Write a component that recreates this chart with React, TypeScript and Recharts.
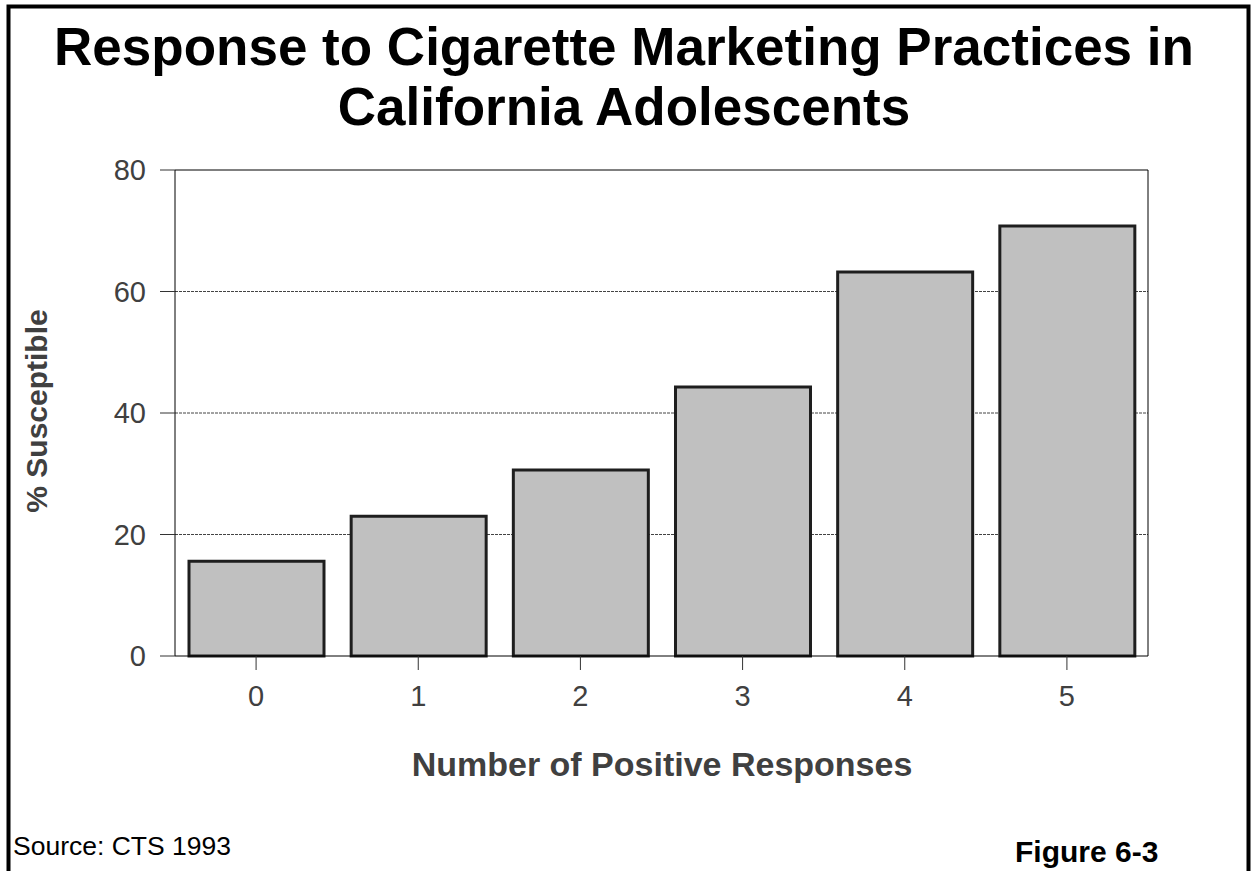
import React from "react";
import {
  BarChart,
  Bar,
  XAxis,
  YAxis,
  CartesianGrid,
  ReferenceLine,
} from "recharts";

// Share of adolescents susceptible to smoking, by number of positive
// responses to cigarette marketing practices.
const categories = ["0", "1", "2", "3", "4", "5"];
const susceptible = [15.6, 23.0, 30.6, 44.3, 63.2, 70.8];
const yTicks = [0, 20, 40, 60, 80];
const gridValues = [20, 40, 60];
const yMax = 80;

const titleLines = [
  "Response to Cigarette Marketing Practices in",
  "California Adolescents",
];
const xTitle = "Number of Positive Responses";
const yTitle = "% Susceptible";
const sourceNote = "Source: CTS 1993";
const figureLabel = "Figure 6-3";

const data = categories.map((c, i) => ({ responses: c, pct: susceptible[i] }));

const FONT = '"Liberation Sans", Arial, Helvetica, sans-serif';
const W = 1252;
const H = 871;

export default function App() {
  return (
    <div
      style={{
        position: "absolute",
        left: 0,
        top: 0,
        width: W,
        height: H,
        background: "#fff",
        fontFamily: FONT,
        overflow: "hidden",
      }}
    >
      <div style={{ position: "absolute", left: 0, top: 0 }}>
        <BarChart
          width={W}
          height={H}
          data={data}
          margin={{ top: 170, right: 0, bottom: 155, left: 0 }}
          barSize={135}
        >
          <CartesianGrid
            vertical={false}
            horizontalValues={gridValues}
            stroke="#444"
            strokeDasharray="3 1"
            strokeWidth={1}
          />
          <XAxis
            dataKey="responses"
            height={60}
            tickSize={14}
            tickMargin={15}
            tick={{ fill: "#404040", fontSize: 29, fontFamily: FONT }}
            tickLine={{ stroke: "#333" }}
            axisLine={{ stroke: "#000" }}
          />
          <YAxis
            width={175}
            domain={[0, yMax]}
            ticks={yTicks}
            tickSize={15}
            tickMargin={14}
            tick={{ fill: "#404040", fontSize: 29, fontFamily: FONT }}
            tickLine={{ stroke: "#333" }}
            axisLine={{ stroke: "#000" }}
          />
          <YAxis
            yAxisId="right"
            orientation="right"
            width={104}
            domain={[0, yMax]}
            tick={false}
            tickLine={false}
            axisLine={{ stroke: "#000" }}
          />
          {/* closes the plot box along the top */}
          <ReferenceLine y={yMax} stroke="#000" strokeWidth={1} />
          <Bar
            dataKey="pct"
            fill="#c0c0c0"
            stroke="#1e1e1e"
            strokeWidth={3}
            isAnimationActive={false}
          />
        </BarChart>
      </div>
      <svg
        width={W}
        height={H}
        style={{ position: "absolute", left: 0, top: 0, pointerEvents: "none" }}
      >
        {/* page frame: left, top and right edges */}
        <path
          d={`M 8.5 ${H} L 8.5 6.5 L 1248.5 6.5 L 1248.5 ${H}`}
          fill="none"
          stroke="#000"
          strokeWidth={4}
        />
        <text
          x={624}
          y={65}
          textAnchor="middle"
          fontFamily={FONT}
          fontWeight="bold"
          fontSize={53}
          fill="#000"
        >
          {titleLines[0]}
        </text>
        <text
          x={624}
          y={125}
          textAnchor="middle"
          fontFamily={FONT}
          fontWeight="bold"
          fontSize={53}
          fill="#000"
        >
          {titleLines[1]}
        </text>
        <text
          x={662}
          y={776}
          textAnchor="middle"
          fontFamily={FONT}
          fontWeight="bold"
          fontSize={34}
          fill="#404040"
        >
          {xTitle}
        </text>
        <text
          x={36}
          y={411}
          textAnchor="middle"
          dominantBaseline="central"
          transform="rotate(-90 36 411)"
          fontFamily={FONT}
          fontWeight="bold"
          fontSize={30}
          fill="#404040"
        >
          {yTitle}
        </text>
        <text x={13} y={855} fontFamily={FONT} fontSize={26.5} fill="#000">
          {sourceNote}
        </text>
        <text
          x={1015}
          y={862}
          fontFamily={FONT}
          fontWeight="bold"
          fontSize={30}
          fill="#000"
        >
          {figureLabel}
        </text>
      </svg>
    </div>
  );
}
